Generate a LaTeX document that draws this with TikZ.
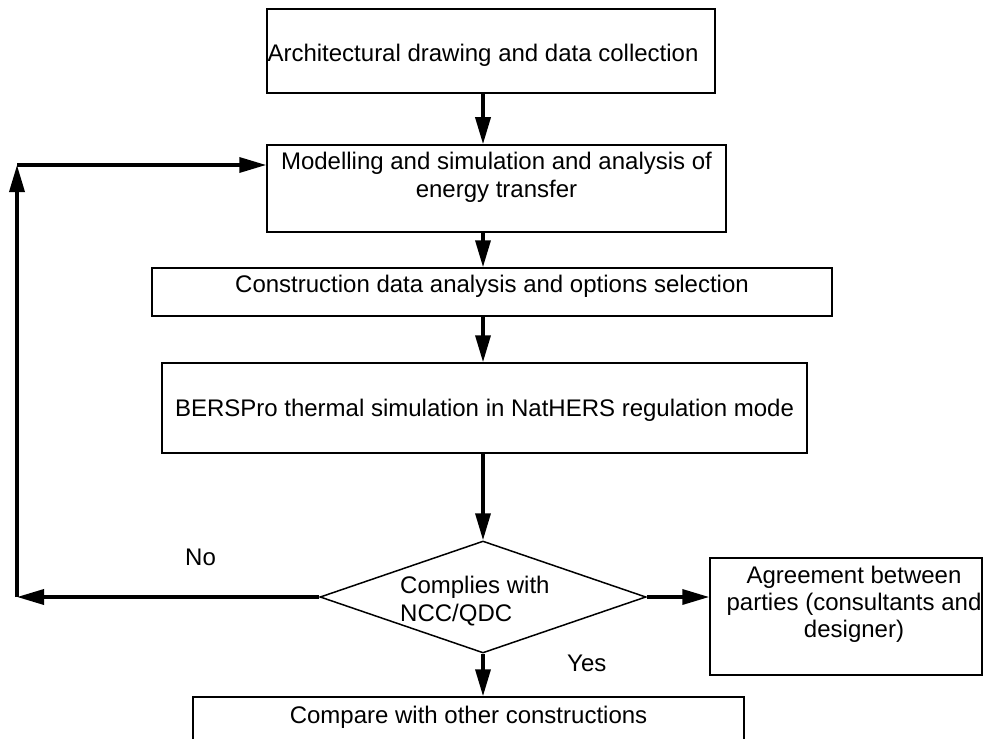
\documentclass[tikz,border=0pt]{standalone}
\usepackage{fontspec}
\setmainfont{Liberation Sans}
\usetikzlibrary{arrows.meta,shapes.geometric}
\begin{document}
\begin{tikzpicture}[x=1pt,y=-1pt,
  box/.style={draw, line width=1.5pt, inner sep=0pt},
  txt/.style={inner sep=0pt, font=\fontsize{24}{28}\selectfont},
  arr/.style={line width=3.5pt, -{Triangle[length=27pt,width=15pt]}}]
\useasboundingbox (0,0) rectangle (984,738);
\clip (0,0) rectangle (984,738);
% boxes
\node[box, minimum width=448pt, minimum height=84pt] (b1) at (491,51) {};
\node[box, minimum width=459pt, minimum height=87pt] (b2) at (496.5,188.5) {};
\node[box, minimum width=680pt, minimum height=48pt] (b3) at (492,292) {};
\node[box, minimum width=645pt, minimum height=90pt] (b4) at (484.5,408) {};
\node[box, diamond, minimum width=326pt, minimum height=112pt] (d) at (483,597) {};
\node[box, minimum width=272pt, minimum height=117pt] (b6) at (846,616.5) {};
\node[box, minimum width=551pt, minimum height=83pt] (b7) at (468.5,738.5) {};
% texts (base anchor of multi-line text = last line's baseline)
\node[txt, anchor=base] (t1) at (483,62) {Architectural drawing and data collection};
\node[txt, anchor=base, align=center] (t2) at (496.5,197) {Modelling and simulation and analysis of\\energy transfer};
\node[txt, anchor=base] (t3) at (492,292) {Construction data analysis and options selection};
\node[txt, anchor=base] (t4) at (484.5,416) {BERSPro thermal simulation in NatHERS regulation mode};
\node[txt, anchor=base west, align=left] (t5) at (400,621) {Complies with\\NCC/QDC};
\node[txt, anchor=base, align=center, font=\fontsize{24}{27}\selectfont] (t6) at (854,637) {Agreement between\\parties (consultants and\\designer)};
\node[txt, anchor=base] (t7) at (468.5,723) {Compare with other constructions};
\node[txt, anchor=base west] (yes) at (567,671) {Yes};
\node[txt, anchor=base west] (no) at (185,565) {No};
% connectors
\coordinate (sp) at (483,0);
\coordinate (cl) at (17,597);
\coordinate (ct) at (17,165);
\draw[arr] (b1.south -| sp) -- (b2.north -| sp);
\draw[arr] (b2.south -| sp) -- (b3.north -| sp);
\draw[arr] (b3.south -| sp) -- (b4.north -| sp);
\draw[arr] (b4.south -| sp) -- (d.north);
\draw[arr] (d.south) -- (b7.north -| d.south);
\draw[arr] (d.east) -- (b6.west |- d.east);
\draw[arr] (d.west) -- (cl);
\draw[arr] (cl) -- (ct);
\draw[arr] (ct) -- (b2.west |- ct);
\end{tikzpicture}
\end{document}
